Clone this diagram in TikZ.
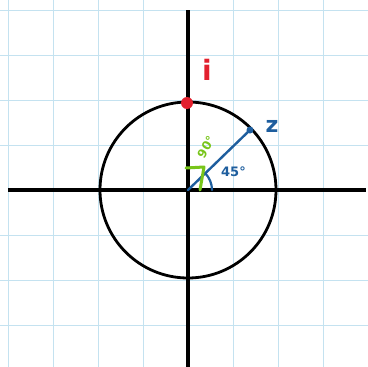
\documentclass[tikz,border=0pt]{standalone}
\usepackage{fontspec}
\setmainfont{DejaVu Sans}
\definecolor{gridc}{HTML}{C4E2F0}
\definecolor{zblue}{HTML}{1E5E9E}
\definecolor{igreen}{HTML}{78C51A}
\definecolor{ired}{HTML}{E2202E}
\begin{document}
\begin{tikzpicture}[x=1pt,y=-1pt,
  axis/.style={line width=3.2pt,black},
  circ/.style={line width=2.8pt,black},
  gridline/.style={gridc,line width=0.9pt},
  lbl/.style={inner sep=0pt}]
\useasboundingbox (0,0) rectangle (368,367);
\fill[white] (0,0) rectangle (368,367);
% grid
\foreach \x in {8,53,98,143,233,278,323} \draw[gridline] (\x,0) -- (\x,367);
\foreach \y in {10,55,100,145,235,280,325} \draw[gridline] (0,\y) -- (368,\y);
% axes
\coordinate (O) at (188,190);
\coordinate (xl) at (8,190);
\coordinate (xr) at (366,190);
\coordinate (yt) at (188,10);
\coordinate (yb) at (188,367);
\draw[axis] (xl) -- (xr);
\draw[axis] (yt) -- (yb);
% unit circle
\draw[circ] (O) circle[radius=88];
% z
\coordinate (Z) at (250,130);
\draw[zblue,line width=2.4pt,line cap=round] (O) -- (Z);
\fill[zblue] (Z) circle[radius=3.5];
\node[lbl,text=zblue,font=\bfseries\fontsize{22}{22}\selectfont] (zl) at (272,126) {z};
% 45 deg arc
\draw[zblue,line width=2.2pt,line cap=round] (212,190) arc[start angle=0,end angle=-45,radius=24];
\node[lbl,text=zblue,font=\bfseries\fontsize{13}{13}\selectfont,anchor=west] (a45) at (221,172) {45°};
% 90 deg mark
\draw[igreen,line width=3pt,line cap=round,line join=round] (186,168) -- (204,167) -- (200,190);
\node[lbl,text=igreen,font=\bfseries\fontsize{12}{12}\selectfont,rotate=60] (a90) at (206,147) {90°};
% i
\fill[ired] (187,103) circle[radius=6];
\node[lbl,text=ired,font=\bfseries\fontsize{28}{28}\selectfont] (il) at (207,70) {i};
\end{tikzpicture}
\end{document}
